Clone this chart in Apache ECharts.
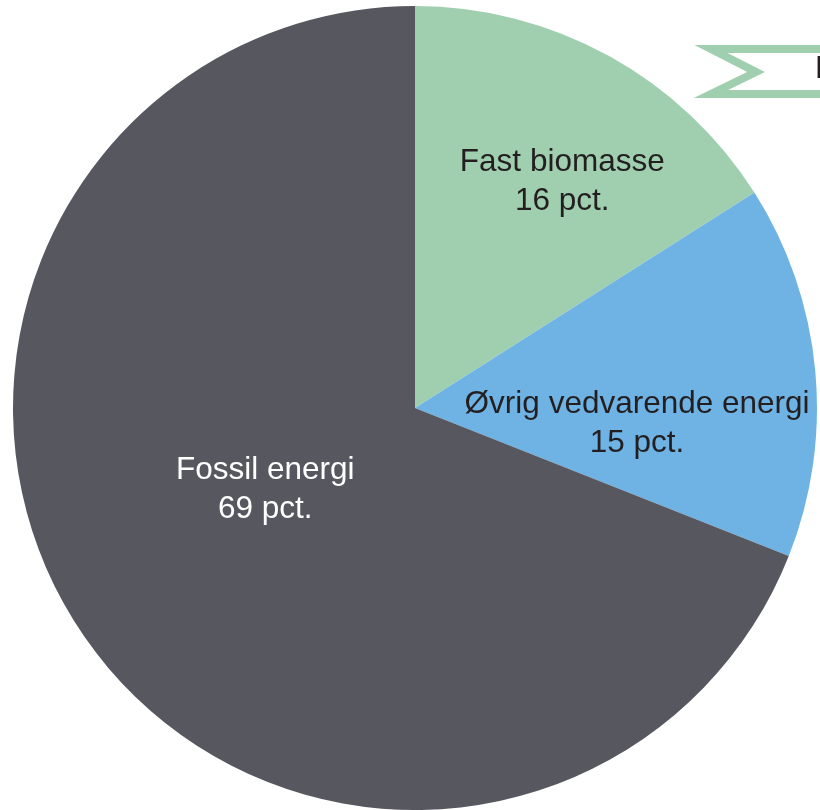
<!DOCTYPE html>
<html><head><meta charset="utf-8">
<script src="https://cdn.jsdelivr.net/npm/echarts@6/dist/echarts.min.js"></script>
<style>html,body{margin:0;padding:0;background:#fff}#c{width:820px;height:810px}</style>
</head><body><div id="c"></div>
<script>
const categories = ['Fast biomasse', 'Øvrig vedvarende energi', 'Fossil energi'];
const values = [16, 15, 69];
const labelTexts = ['Fast biomasse\n16 pct.', 'Øvrig vedvarende energi\n15 pct.', 'Fossil energi\n69 pct.'];
const colors = ['#a0cfb0', '#6fb3e4', '#575760'];
const labelColors = ['#231f20', '#231f20', '#ffffff'];
const labelOffsets = [[49, -47], [19, 35], [19, -33]];
const calloutText = 'Biogas';

const chart = echarts.init(document.getElementById('c'), null, {renderer: 'canvas'});
chart.setOption({
  animation: false,
  series: [{
    type: 'pie',
    center: [415, 408],
    radius: [0, 402],
    startAngle: 90,
    clockwise: true,
    silent: true,
    itemStyle: {borderWidth: 0},
    label: {show: true, position: 'inner', fontFamily: 'Liberation Sans', fontSize: 31.5, lineHeight: 39, align: 'center'},
    labelLine: {show: false},
    data: categories.map((c, i) => ({
      name: c, value: values[i],
      itemStyle: {color: colors[i]},
      label: {formatter: labelTexts[i], color: labelColors[i], offset: labelOffsets[i]}
    }))
  }],
  graphic: [
    {type: 'polygon', shape: {points: [[711, 49], [900, 49], [900, 94], [711, 94], [756, 72]]},
     style: {fill: 'none', stroke: '#a0cfb0', lineWidth: 8, lineJoin: 'miter'}},
    {type: 'text', left: 815, top: 53, style: {text: calloutText, fontFamily: 'Liberation Sans', fontSize: 31.5, fill: '#231f20'}}
  ]
});
</script></body></html>
